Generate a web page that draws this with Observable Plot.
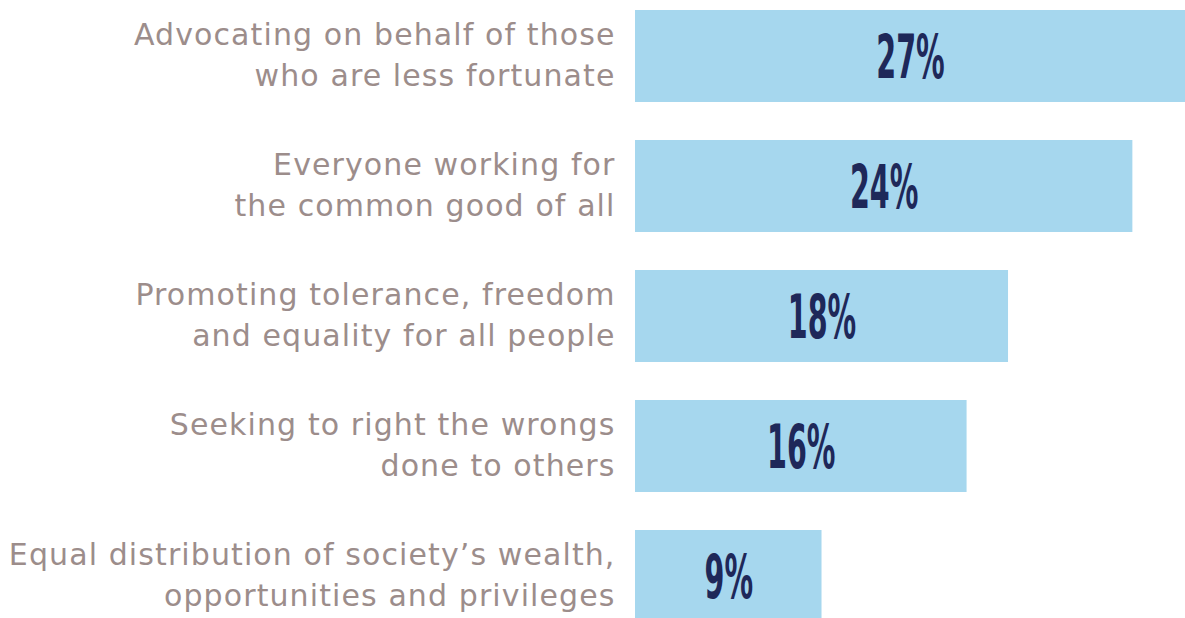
<!DOCTYPE html>
<html>
<head>
<meta charset="utf-8">
<script src="https://cdn.jsdelivr.net/npm/d3@7"></script>
<script src="https://cdn.jsdelivr.net/npm/@observablehq/plot@0.6"></script>
<style>
  html, body { margin: 0; padding: 0; background: #fff; overflow: hidden; }
  .lab text { letter-spacing: 1.1px; }
</style>
</head>
<body>
<div id="chart"></div>
<script>
const categories = [
  "Advocating on behalf of those\nwho are less fortunate",
  "Everyone working for\nthe common good of all",
  "Promoting tolerance, freedom\nand equality for all people",
  "Seeking to right the wrongs\ndone to others",
  "Equal distribution of society\u2019s wealth,\nopportunities and privileges"
];
const values = [27, 24, 18, 16, 9];
const valueLabels = ["27%", "24%", "18%", "16%", "9%"];

const data = categories.map((c, i) => ({category: c, value: values[i], label: valueLabels[i]}));

const chart = Plot.plot({
  width: 1185,
  height: 622,
  marginLeft: 635,
  marginRight: 0,
  marginTop: 10,
  marginBottom: 0,
  x: {domain: [0, 26.54], axis: null},
  y: {domain: categories, axis: null, paddingInner: 0.2923, paddingOuter: 0, round: false},
  marks: [
    Plot.barX(data, {x: "value", y: "category", fill: "#a6d7ee", clip: true}),
    Plot.text(data, {
      y: "category", text: "category", frameAnchor: "left", dx: -20, dy: -4,
      textAnchor: "end", fill: "#9c8d8b", fontSize: 30, lineHeight: 1.36,
      fontFamily: "DejaVu Sans", className: "lab"
    }),
    Plot.text(data, {
      x: d => Math.min(d.value, 26.54) / 2, y: "category", text: "label",
      fill: "#1e2859", fontSize: 60, fontWeight: "bold",
      fontFamily: "Liberation Sans Narrow, DejaVu Sans Condensed, sans-serif",
      className: "val", dy: 2
    })
  ]
});
document.getElementById("chart").appendChild(chart);
d3.select(chart).selectAll(".val text").each(function() {
  const t = this.getAttribute("transform") || "";
  this.setAttribute("transform", t + " scale(0.53,1)");
});
</script>
</body>
</html>
